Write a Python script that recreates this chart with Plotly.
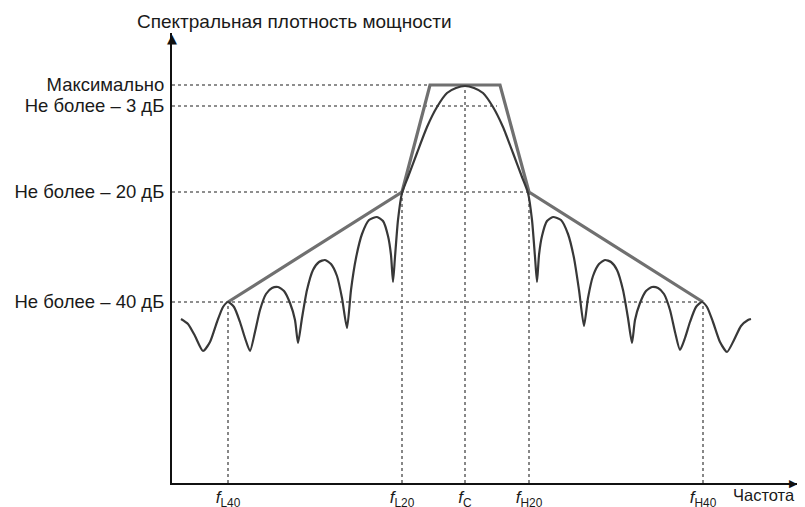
import plotly.graph_objects as go

# ---- data (x: frequency position, y: level, arbitrary schematic units) ----
freq_names = ["<i>f</i><sub>L40</sub>", "<i>f</i><sub>L20</sub>", "<i>f</i><sub>C</sub>",
              "<i>f</i><sub>H20</sub>", "<i>f</i><sub>H40</sub>"]
freq_vals = [56, 230, 293, 357, 531]
freq_guide_top = [181, 291, 398, 291, 181]

level_names = ["Максимально", "Не более – 3 дБ", "Не более – 20 дБ", "Не более – 40 дБ"]
level_vals = [398, 377, 291, 181]
level_guide_end = [258, 325, 357, 531]

mask_x = [56, 230, 258, 328, 357, 531]
mask_y = [181, 291, 398, 398, 291, 181]

spec_x = [9, 16, 23, 31, 38, 45, 51, 56, 62, 68, 73, 78,
          83, 88, 94, 100, 106, 112, 118, 123, 126,
          130, 135, 141, 147, 153, 159, 165, 170, 175,
          179, 184, 190, 197, 205, 211, 216, 219, 221,
          223, 226, 230, 236, 245, 255, 265, 275, 284, 293,
          302, 311, 321, 331, 341, 350, 356, 360, 363, 365,
          367, 370, 375, 381, 389, 396, 402, 407, 412,
          416, 421, 427, 433, 439, 445, 451, 456, 460,
          463, 468, 474, 480, 486, 492, 498, 503, 508,
          513, 518, 524, 530, 535, 541, 548, 555,
          562, 569, 576, 579]
spec_y = [164, 159, 147, 132, 141, 161, 176, 181, 176, 161, 145, 132,
          151, 173, 189, 195, 196, 192, 180, 163, 140,
          165, 193, 213, 221, 223, 219, 207, 185, 155,
          193, 225, 249, 263, 266, 262, 247, 228, 201,
          226, 263, 290, 306, 330, 356, 376, 390, 395, 397,
          395, 390, 376, 356, 330, 306, 290, 263, 226, 201,
          228, 247, 262, 266, 263, 249, 225, 193, 157,
          185, 207, 219, 223, 221, 213, 193, 165, 140,
          163, 180, 192, 196, 195, 189, 173, 151, 133,
          145, 161, 176, 181, 176, 161, 141, 131,
          143, 157, 163, 164]

X_MAX = 626
Y_MAX = 450

FONT = "Liberation Sans, Arial, sans-serif"
GUIDE = dict(color="#6a6a6a", width=1.6, dash="dot")

fig = go.Figure()

# dotted guide lines
for v, e in zip(level_vals, level_guide_end):
    fig.add_trace(go.Scatter(x=[0, e], y=[v, v], mode="lines", line=GUIDE,
                             hoverinfo="skip", showlegend=False))
for f, t in zip(freq_vals, freq_guide_top):
    fig.add_trace(go.Scatter(x=[f, f], y=[0, t], mode="lines", line=GUIDE,
                             hoverinfo="skip", showlegend=False))

# mask
fig.add_trace(go.Scatter(x=mask_x, y=mask_y, mode="lines",
                         line=dict(color="#707070", width=3.2), showlegend=False))
# spectrum
fig.add_trace(go.Scatter(x=spec_x, y=spec_y, mode="lines",
                         line=dict(color="#383838", width=2.2, shape="spline", smoothing=0.6),
                         showlegend=False))

fig.update_layout(
    width=805, height=507,
    margin=dict(l=164, r=15, t=25, b=32),
    paper_bgcolor="white", plot_bgcolor="white",
    font=dict(family=FONT, size=18, color="#1a1a1a"),
    xaxis=dict(range=[0, X_MAX], showgrid=False, zeroline=False, showline=True,
               linecolor="#111", linewidth=2, ticks="", tickvals=freq_vals,
               ticktext=freq_names, automargin=False, ticklabelstandoff=-2,
               tickfont=dict(size=17)),
    yaxis=dict(range=[0, Y_MAX], showgrid=False, zeroline=False, showline=True,
               linecolor="#111", linewidth=2, ticks="", tickvals=level_vals,
               ticktext=level_names, automargin=False, ticklabelstandoff=2,
               tickfont=dict(size=18.5)),
    annotations=[
        # arrow heads at the axis ends
        dict(text="▲", xref="paper", yref="paper", x=0, y=(483 - 39) / Y_MAX,
             showarrow=False, xanchor="center", yanchor="middle",
             font=dict(family="DejaVu Sans", size=13, color="#111")),
        dict(text="▶", xref="paper", yref="paper", x=(793 - 172) / X_MAX, y=0,
             showarrow=False, xanchor="center", yanchor="middle",
             font=dict(family="DejaVu Sans", size=11, color="#111")),
        dict(text="Спектральная плотность мощности", xref="paper", yref="paper",
             x=(294 - 172) / X_MAX, y=(483 - 22) / Y_MAX, showarrow=False,
             xanchor="center", yanchor="middle", font=dict(size=19)),
        dict(text="Частота", xref="paper", yref="paper",
             x=(731 - 172) / X_MAX, y=(483 - 495) / Y_MAX, showarrow=False,
             xanchor="left", yanchor="middle", font=dict(size=16.5)),
    ],
)

fig.write_html("out.html")
